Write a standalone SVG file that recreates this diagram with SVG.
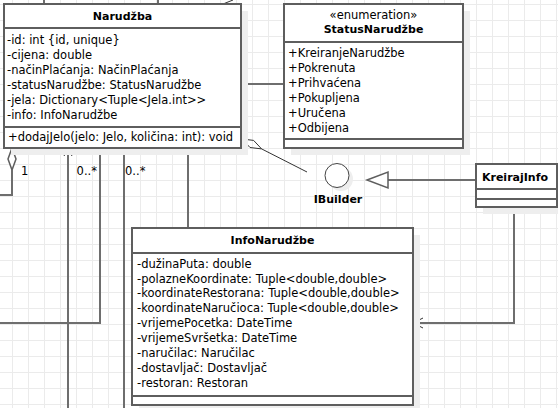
<svg xmlns="http://www.w3.org/2000/svg" width="558" height="408" viewBox="0 0 558 408">
<defs>
<pattern id="grid" x="12" y="4" width="16" height="16" patternUnits="userSpaceOnUse">
<path d="M0.5 0V16M0 0.5H16" stroke="#ebebeb" stroke-width="1" fill="none"/>
</pattern>
<style>
.box{fill:#ffffff;stroke:#5e5e5e;stroke-width:2}
.shadow{fill:#eeeeee;stroke:none}
.div{stroke:#5e5e5e;stroke-width:2}
.con{fill:none;stroke:#6e6e6e;stroke-width:2}
.thin{fill:none;stroke:#333333;stroke-width:1}
text{font-family:"DejaVu Sans","Verdana",sans-serif;font-size:11.5px;fill:#000000}
.title{font-weight:bold;font-size:11px}
.mid{text-anchor:middle}
</style>
</defs>
<rect x="0" y="0" width="558" height="408" fill="#ffffff"/>
<rect x="0" y="0" width="558" height="408" fill="url(#grid)"/>

<g id="connectors">
<line class="con" x1="44" y1="0" x2="44" y2="4"/>
<line class="con" x1="158" y1="0" x2="158" y2="4"/>
<line class="thin" x1="223" y1="4" x2="233" y2="0"/>
<line class="con" x1="241" y1="84" x2="284" y2="84"/>
<polygon class="thin" fill="#ffffff" points="242,139 253.6,140.4 261.6,148.9 250,147.5"/>
<line class="thin" x1="261.6" y1="148.9" x2="307" y2="172"/>
<line class="con" x1="388" y1="180" x2="476" y2="180"/>
<polygon points="367,180 388,172 388,188" fill="#ffffff" stroke="#5e5e5e" stroke-width="1.5"/>
<polyline class="con" points="514,207 514,323 413,323"/>
<polyline class="thin" points="423,318 413,323 423,328"/>
<polygon points="12,148 16,159 12,170 8,159" fill="#ffffff" stroke="#5e5e5e" stroke-width="1.5"/>
<polyline class="con" points="12,170 12,195 0,195"/>
<line class="con" x1="68" y1="149" x2="68" y2="408"/>
<polyline class="thin" points="64,156 68,149 72,156"/>
<polyline class="con" points="100,148 100,323 0,323"/>
<line class="con" x1="124" y1="148" x2="124" y2="408"/>
<line class="con" x1="188" y1="148" x2="188" y2="228"/>
<line x1="266" y1="405" x2="266" y2="408" stroke="#000000" stroke-width="2"/>
<polyline class="thin" points="263,409 266,405 269,409" stroke="#000000"/>
<text x="21" y="175">1</text>
<text x="97" y="175" text-anchor="end">0..*</text>
<text x="125" y="175">0..*</text>
</g>

<g id="narudzba">
<rect class="shadow" x="11" y="11" width="237" height="144"/>
<rect class="box" x="4" y="4" width="237" height="144"/>
<line class="div" x1="4" y1="28" x2="241" y2="28"/>
<line class="div" x1="4" y1="127" x2="241" y2="127"/>
<text class="title mid" x="122.5" y="20">Narudžba</text>
<text x="7" y="44">-id: int {id, unique}</text>
<text x="7" y="59">-cijena: double</text>
<text x="7" y="74">-načinPlaćanja: NačinPlaćanja</text>
<text x="7" y="89">-statusNarudžbe: StatusNarudžbe</text>
<text x="7" y="104">-jela: Dictionary&lt;Tuple&lt;Jela.int&gt;&gt;</text>
<text x="7" y="119">-info: InfoNarudžbe</text>
<text x="8" y="141">+dodajJelo(jelo: Jelo, količina: int): void</text>
</g>

<g id="statusNarudzbe">
<rect class="shadow" x="291" y="11" width="179" height="144"/>
<rect class="box" x="284" y="4" width="179" height="144"/>
<line class="div" x1="284" y1="42" x2="463" y2="42"/>
<line class="div" x1="284" y1="139" x2="463" y2="139"/>
<text class="mid" x="373.5" y="19">«enumeration»</text>
<text class="title mid" x="373.5" y="33">StatusNarudžbe</text>
<text x="288" y="57">+KreiranjeNarudžbe</text>
<text x="288" y="72">+Pokrenuta</text>
<text x="288" y="86.5">+Prihvaćena</text>
<text x="288" y="102">+Pokupljena</text>
<text x="288" y="117">+Uručena</text>
<text x="288" y="131.5">+Odbijena</text>
</g>

<g id="ibuilder">
<circle cx="341" cy="179" r="12" fill="#eeeeee"/>
<circle cx="337" cy="175.5" r="12" fill="#ffffff" stroke="#444444" stroke-width="1"/>
<text class="title mid" x="338" y="203">IBuilder</text>
</g>

<g id="kreirajInfo">
<rect class="shadow" x="483" y="171" width="81" height="43"/>
<rect class="box" x="476" y="164" width="81" height="43"/>
<line class="div" x1="476" y1="189" x2="557" y2="189"/>
<line class="div" x1="476" y1="199" x2="557" y2="199"/>
<text class="title mid" x="515" y="181">KreirajInfo</text>
</g>

<g id="infoNarudzbe">
<rect class="shadow" x="139" y="235" width="281" height="177"/>
<rect class="box" x="132" y="228" width="281" height="177"/>
<line class="div" x1="132" y1="253" x2="413" y2="253"/>
<line class="div" x1="132" y1="396" x2="413" y2="396"/>
<text class="title mid" x="272.5" y="244">InfoNarudžbe</text>
<text x="137" y="268">-dužinaPuta: double</text>
<text x="137" y="282.5">-polazneKoordinate: Tuple&lt;double,double&gt;</text>
<text x="137" y="297">-koordinateRestorana: Tuple&lt;double,double&gt;</text>
<text x="137" y="311.5">-koordinateNaručioca: Tuple&lt;double,double&gt;</text>
<text x="137" y="326.5">-vrijemePocetka: DateTime</text>
<text x="137" y="341.5">-vrijemeSvršetka: DateTime</text>
<text x="137" y="357">-naručilac: Naručilac</text>
<text x="137" y="372">-dostavljač: Dostavljač</text>
<text x="137" y="387">-restoran: Restoran</text>
</g>
</svg>
